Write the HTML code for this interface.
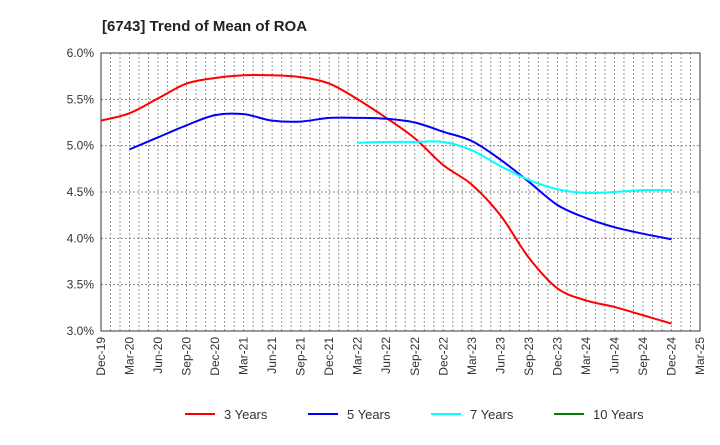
<!DOCTYPE html>
<html><head><meta charset="utf-8"><style>
body{margin:0;background:#fff;font-family:"Liberation Sans",sans-serif;}
svg text{font-family:"Liberation Sans",sans-serif;}
</style></head><body>
<svg id="chart" width="720" height="440">
<text x="102" y="31" font-size="15" font-weight="bold" fill="#222">[6743]  Trend of Mean of ROA</text>
<g id="grid"></g><g id="axes"></g><g id="series"></g><g id="legend"></g>
</svg>
<script>
const quarters=["Dec-19","Mar-20","Jun-20","Sep-20","Dec-20","Mar-21","Jun-21","Sep-21","Dec-21","Mar-22","Jun-22","Sep-22","Dec-22","Mar-23","Jun-23","Sep-23","Dec-23","Mar-24","Jun-24","Sep-24","Dec-24","Mar-25"];
const yTicks=[3.0,3.5,4.0,4.5,5.0,5.5,6.0];
const seriesNames=["3 Years","5 Years","7 Years","10 Years"];
const seriesColors=["#ff0000","#0000ff","#00ffff","#008000"];
const seriesStart=[0,1,9,0];
const years3=[5.27,5.35,5.51,5.67,5.73,5.76,5.76,5.74,5.67,5.50,5.30,5.08,4.79,4.58,4.25,3.79,3.46,3.33,3.26,3.17,3.08];
const years5=[4.96,5.09,5.22,5.33,5.34,5.27,5.26,5.30,5.30,5.29,5.25,5.15,5.05,4.85,4.61,4.36,4.22,4.12,4.05,3.99];
const years7=[5.03,5.04,5.04,5.04,4.95,4.78,4.63,4.53,4.49,4.50,4.52,4.52];
const years10=[];
const allSeries=[years3,years5,years7,years10];

const L=101,R=700,T=53,B=331,NS="http://www.w3.org/2000/svg";
const xPos=i=>L+i*(R-L)/(quarters.length-1);
const yPos=v=>B-(v-3.0)/(6.0-3.0)*(B-T);
function mk(tag,attrs,parent){const e=document.createElementNS(NS,tag);for(const k in attrs)e.setAttribute(k,attrs[k]);parent.appendChild(e);return e;}
const grid=document.getElementById('grid'),axes=document.getElementById('axes'),ser=document.getElementById('series'),leg=document.getElementById('legend');
const nMonths=(quarters.length-1)*3;
for(let m=1;m<nMonths;m++){const x=L+m*(R-L)/nMonths;
 const g=mk('line',{x1:x,x2:x,y1:T,y2:B,stroke:'#999','stroke-width':1,'stroke-dasharray':'2,2'},grid);
 
 }
yTicks.forEach(v=>{const y=yPos(v);
 const g=mk('line',{x1:L,x2:R,y1:y,y2:y,stroke:'#888','stroke-width':1,'stroke-dasharray':'2,2'},grid);
 
 
 const t=mk('text',{x:L-7,y:y+4,'font-size':12,'text-anchor':'end',fill:'#333'},axes);t.textContent=v.toFixed(1)+'%';
 
 });
const frame=mk('rect',{x:L,y:T,width:R-L,height:B-T,fill:'none',stroke:'#333','stroke-width':1},axes);


quarters.forEach((q,i)=>{const x=xPos(i);
 const t=mk('text',{transform:`translate(${x+4},${B+6}) rotate(-90)`,'font-size':12,'text-anchor':'end',fill:'#333'},axes);t.textContent=q;
 
 });
function smooth(pts){if(pts.length<2)return '';let d=`M${pts[0][0]},${pts[0][1]}`;
 for(let i=0;i<pts.length-1;i++){const p0=pts[i-1]||pts[i],p1=pts[i],p2=pts[i+1],p3=pts[i+2]||p2;
  const c1=[p1[0]+(p2[0]-p0[0])/6,p1[1]+(p2[1]-p0[1])/6],c2=[p2[0]-(p3[0]-p1[0])/6,p2[1]-(p3[1]-p1[1])/6];
  d+=` C${c1[0]},${c1[1]} ${c2[0]},${c2[1]} ${p2[0]},${p2[1]}`;}return d;}
allSeries.forEach((s,k)=>{const pts=s.map((v,i)=>[xPos(seriesStart[k]+i),yPos(v)]);
 const p=mk('path',{d:smooth(pts),fill:'none',stroke:seriesColors[k],'stroke-width':2},ser);
 
 });
const legX=[185,308,431,554];
seriesNames.forEach((n,k)=>{const g=mk('g',{},leg);
 
 
 mk('line',{x1:legX[k],x2:legX[k]+30,y1:414,y2:414,stroke:seriesColors[k],'stroke-width':2},g);
 const t=mk('text',{x:legX[k]+39,y:419,'font-size':13,fill:'#333'},g);t.textContent=n;});
</script>
</body></html>
